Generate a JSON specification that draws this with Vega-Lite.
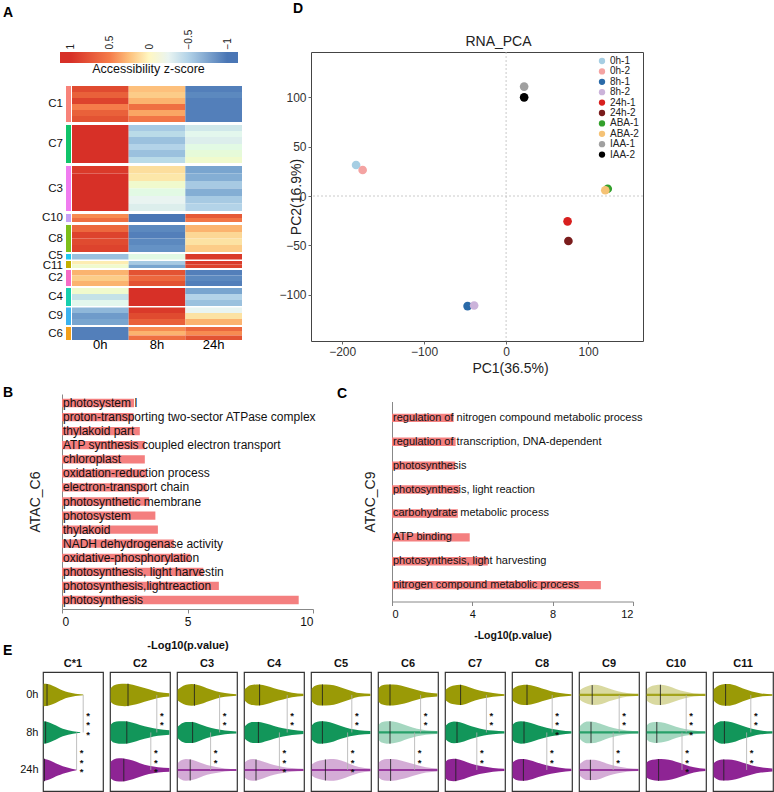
{
  "$schema": "https://vega.github.io/schema/vega-lite/v6.json",
  "background": "white",
  "padding": {"left": 3, "top": 1, "right": 0, "bottom": 0},
  "config": {
    "font": "Liberation Sans",
    "view": {"stroke": null},
    "title": {"fontSize": 14, "fontWeight": "bold", "anchor": "start", "frame": "group", "color": "#000"}
  },
  "datasets": {
    "heat": [
      {"k":"C1","t":"0h","a":0,"b":6,"z":0.85},{"k":"C1","t":"0h","a":6,"b":12,"z":0.7},{"k":"C1","t":"0h","a":12,"b":18,"z":0.9},{"k":"C1","t":"0h","a":18,"b":24,"z":0.5},{"k":"C1","t":"0h","a":24,"b":30,"z":0.7},{"k":"C1","t":"0h","a":30,"b":36,"z":0.8},
      {"k":"C1","t":"8h","a":0,"b":6,"z":0.25},{"k":"C1","t":"8h","a":6,"b":12,"z":0.2},{"k":"C1","t":"8h","a":12,"b":18,"z":0.3},{"k":"C1","t":"8h","a":18,"b":24,"z":0.6},{"k":"C1","t":"8h","a":24,"b":30,"z":0.35},{"k":"C1","t":"8h","a":30,"b":36,"z":0.55},
      {"k":"C1","t":"24h","a":0,"b":6,"z":-0.95},{"k":"C1","t":"24h","a":6,"b":12,"z":-0.9},{"k":"C1","t":"24h","a":12,"b":18,"z":-0.95},{"k":"C1","t":"24h","a":18,"b":36,"z":-0.95},
      {"k":"C7","t":"0h","a":39,"b":77,"z":1},
      {"k":"C7","t":"8h","a":39,"b":45,"z":-0.55},{"k":"C7","t":"8h","a":45,"b":51,"z":-0.45},{"k":"C7","t":"8h","a":51,"b":58,"z":-0.6},{"k":"C7","t":"8h","a":58,"b":64,"z":-0.5},{"k":"C7","t":"8h","a":64,"b":71,"z":-0.6},{"k":"C7","t":"8h","a":71,"b":77,"z":-0.45},
      {"k":"C7","t":"24h","a":39,"b":45,"z":-0.35},{"k":"C7","t":"24h","a":45,"b":51,"z":-0.2},{"k":"C7","t":"24h","a":51,"b":58,"z":-0.3},{"k":"C7","t":"24h","a":58,"b":64,"z":-0.15},{"k":"C7","t":"24h","a":64,"b":71,"z":-0.1},{"k":"C7","t":"24h","a":71,"b":77,"z":-0.05},
      {"k":"C3","t":"0h","a":80,"b":87.5,"z":0.95},{"k":"C3","t":"0h","a":87.5,"b":125,"z":1},
      {"k":"C3","t":"8h","a":80,"b":87.5,"z":0.12},{"k":"C3","t":"8h","a":87.5,"b":95,"z":0.08},{"k":"C3","t":"8h","a":95,"b":102.5,"z":-0.05},{"k":"C3","t":"8h","a":102.5,"b":110,"z":-0.15},{"k":"C3","t":"8h","a":110,"b":117.5,"z":-0.25},{"k":"C3","t":"8h","a":117.5,"b":125,"z":-0.3},
      {"k":"C3","t":"24h","a":80,"b":87.5,"z":-0.75},{"k":"C3","t":"24h","a":87.5,"b":95,"z":-0.7},{"k":"C3","t":"24h","a":95,"b":102.5,"z":-0.55},{"k":"C3","t":"24h","a":102.5,"b":110,"z":-0.7},{"k":"C3","t":"24h","a":110,"b":117.5,"z":-0.55},{"k":"C3","t":"24h","a":117.5,"b":125,"z":-0.5},
      {"k":"C10","t":"0h","a":128,"b":132,"z":0.45},{"k":"C10","t":"0h","a":132,"b":136,"z":0.6},
      {"k":"C10","t":"8h","a":128,"b":136,"z":-1},
      {"k":"C10","t":"24h","a":128,"b":132,"z":0.75},{"k":"C10","t":"24h","a":132,"b":136,"z":0.55},
      {"k":"C8","t":"0h","a":139,"b":146,"z":0.65},{"k":"C8","t":"0h","a":146,"b":152.5,"z":0.9},{"k":"C8","t":"0h","a":152.5,"b":159,"z":0.85},{"k":"C8","t":"0h","a":159,"b":166,"z":0.9},
      {"k":"C8","t":"8h","a":139,"b":146,"z":-0.9},{"k":"C8","t":"8h","a":146,"b":152.5,"z":-0.95},{"k":"C8","t":"8h","a":152.5,"b":159,"z":-0.9},{"k":"C8","t":"8h","a":159,"b":166,"z":-0.85},
      {"k":"C8","t":"24h","a":139,"b":146,"z":0.3},{"k":"C8","t":"24h","a":146,"b":152.5,"z":0.15},{"k":"C8","t":"24h","a":152.5,"b":159,"z":0.1},{"k":"C8","t":"24h","a":159,"b":166,"z":0.2},
      {"k":"C5","t":"0h","a":168,"b":173.5,"z":-0.6},{"k":"C5","t":"8h","a":168,"b":173.5,"z":-0.15},{"k":"C5","t":"24h","a":168,"b":173.5,"z":0.95},
      {"k":"C11","t":"0h","a":175,"b":178.5,"z":0.05},{"k":"C11","t":"0h","a":178.5,"b":182,"z":-0.05},
      {"k":"C11","t":"8h","a":175,"b":178.5,"z":-0.55},{"k":"C11","t":"8h","a":178.5,"b":182,"z":-0.75},
      {"k":"C11","t":"24h","a":175,"b":178.5,"z":0.95},{"k":"C11","t":"24h","a":178.5,"b":182,"z":0.9},
      {"k":"C2","t":"0h","a":184,"b":189.5,"z":0.3},{"k":"C2","t":"0h","a":189.5,"b":195,"z":0.2},{"k":"C2","t":"0h","a":195,"b":200,"z":0.3},
      {"k":"C2","t":"8h","a":184,"b":189.5,"z":0.8},{"k":"C2","t":"8h","a":189.5,"b":195,"z":0.65},{"k":"C2","t":"8h","a":195,"b":200,"z":0.8},
      {"k":"C2","t":"24h","a":184,"b":189.5,"z":-0.95},{"k":"C2","t":"24h","a":189.5,"b":195,"z":-0.9},{"k":"C2","t":"24h","a":195,"b":200,"z":-0.95},
      {"k":"C4","t":"0h","a":202,"b":208,"z":-0.05},{"k":"C4","t":"0h","a":208,"b":214,"z":-0.4},{"k":"C4","t":"0h","a":214,"b":220,"z":-0.2},
      {"k":"C4","t":"8h","a":202,"b":220,"z":1},
      {"k":"C4","t":"24h","a":202,"b":208,"z":-0.75},{"k":"C4","t":"24h","a":208,"b":214,"z":-0.5},{"k":"C4","t":"24h","a":214,"b":220,"z":-0.6},
      {"k":"C9","t":"0h","a":221.5,"b":227,"z":-0.65},{"k":"C9","t":"0h","a":227,"b":233,"z":-0.8},{"k":"C9","t":"0h","a":233,"b":239,"z":-0.75},
      {"k":"C9","t":"8h","a":221.5,"b":227,"z":0.95},{"k":"C9","t":"8h","a":227,"b":233,"z":0.85},{"k":"C9","t":"8h","a":233,"b":239,"z":0.7},
      {"k":"C9","t":"24h","a":221.5,"b":227,"z":-0.25},{"k":"C9","t":"24h","a":227,"b":233,"z":0.1},{"k":"C9","t":"24h","a":233,"b":239,"z":0.3},
      {"k":"C6","t":"0h","a":241,"b":254,"z":-0.95},
      {"k":"C6","t":"8h","a":241,"b":245,"z":0.45},{"k":"C6","t":"8h","a":245,"b":249.5,"z":0.3},{"k":"C6","t":"8h","a":249.5,"b":254,"z":0.6},
      {"k":"C6","t":"24h","a":241,"b":245,"z":0.65},{"k":"C6","t":"24h","a":245,"b":249.5,"z":0.45},{"k":"C6","t":"24h","a":249.5,"b":254,"z":0.8}
    ],
    "clusters": [
      {"k":"C1","a":0,"b":36,"mid":18},{"k":"C7","a":39,"b":77,"mid":58},{"k":"C3","a":80,"b":125,"mid":102.5},
      {"k":"C10","a":128,"b":136,"mid":132},{"k":"C8","a":139,"b":166,"mid":152.5},{"k":"C5","a":168,"b":173.5,"mid":169.5},
      {"k":"C11","a":175,"b":182,"mid":180},{"k":"C2","a":184,"b":200,"mid":192},{"k":"C4","a":202,"b":220,"mid":211},
      {"k":"C9","a":221.5,"b":239,"mid":230.25},{"k":"C6","a":241,"b":254,"mid":247.5}
    ],
    "pca": [
      {"s":"0h-1","pc1":-183,"pc2":31.4},{"s":"0h-2","pc1":-175,"pc2":26.4},
      {"s":"8h-1","pc1":-47,"pc2":-111.6},{"s":"8h-2","pc1":-39,"pc2":-111},
      {"s":"24h-1","pc1":75,"pc2":-25.7},{"s":"24h-2","pc1":76,"pc2":-45.6},
      {"s":"ABA-1","pc1":124,"pc2":7.4},{"s":"ABA-2","pc1":121,"pc2":5.8},
      {"s":"IAA-1","pc1":22,"pc2":110.9},{"s":"IAA-2","pc1":22,"pc2":100}
    ],
    "goB": [
      {"term":"photosystem I","p":2.87},
      {"term":"proton-transporting two-sector ATPase complex","p":2.85},
      {"term":"thylakoid part","p":3.1},
      {"term":"ATP synthesis coupled electron transport","p":3.3},
      {"term":"chloroplast","p":3.3},
      {"term":"oxidation-reduction process","p":3.35},
      {"term":"electron-transport chain","p":3.38},
      {"term":"photosynthetic membrane","p":3.47},
      {"term":"photosystem","p":3.72},
      {"term":"thylakoid","p":3.82},
      {"term":"NADH  dehydrogenase  activity","p":4.46},
      {"term":"oxidative-phosphorylation","p":5.12},
      {"term":" photosynthesis, light harvestin","p":5.63},
      {"term":"photosynthesis,lightreaction","p":6.25},
      {"term":"photosynthesis","p":9.43}
    ],
    "goC": [
      {"term":"regulation of nitrogen compound metabolic process","p":3.07},
      {"term":"regulation of transcription, DNA-dependent","p":3.17},
      {"term":"photosynthesis","p":3.15},
      {"term":"photosynthesis, light reaction","p":3.35},
      {"term":"carbohydrate metabolic process","p":3.28},
      {"term":"ATP    binding","p":3.87},
      {"term":"photosynthesis, light harvesting","p":4.77},
      {"term":"nitrogen compound metabolic process","p":10.4}
    ],
    "vio": [
      {"kind":"v","c":"C*1","t":"0h","sig":"y","v":0.01,"hi":3.3,"lo":2.7},{"kind":"v","c":"C*1","t":"0h","sig":"y","v":0.08,"hi":3.29,"lo":2.71},{"kind":"v","c":"C*1","t":"0h","sig":"y","v":0.17,"hi":3.24,"lo":2.76},{"kind":"v","c":"C*1","t":"0h","sig":"y","v":0.25,"hi":3.18,"lo":2.82},{"kind":"v","c":"C*1","t":"0h","sig":"y","v":0.33,"hi":3.12,"lo":2.88},{"kind":"v","c":"C*1","t":"0h","sig":"y","v":0.42,"hi":3.07,"lo":2.93},{"kind":"v","c":"C*1","t":"0h","sig":"y","v":0.5,"hi":3.045,"lo":2.955},{"kind":"v","c":"C*1","t":"0h","sig":"y","v":0.58,"hi":3.025,"lo":2.975},{"kind":"v","c":"C*1","t":"0h","sig":"y","v":0.67,"hi":3.01,"lo":2.99},
      {"kind":"v","c":"C*1","t":"8h","sig":"y","v":0.01,"hi":2.3,"lo":1.7},{"kind":"v","c":"C*1","t":"8h","sig":"y","v":0.08,"hi":2.28,"lo":1.72},{"kind":"v","c":"C*1","t":"8h","sig":"y","v":0.17,"hi":2.22,"lo":1.78},{"kind":"v","c":"C*1","t":"8h","sig":"y","v":0.25,"hi":2.16,"lo":1.84},{"kind":"v","c":"C*1","t":"8h","sig":"y","v":0.33,"hi":2.1,"lo":1.9},{"kind":"v","c":"C*1","t":"8h","sig":"y","v":0.42,"hi":2.06,"lo":1.94},{"kind":"v","c":"C*1","t":"8h","sig":"y","v":0.5,"hi":2.035,"lo":1.965},{"kind":"v","c":"C*1","t":"8h","sig":"y","v":0.56,"hi":2.02,"lo":1.98},{"kind":"v","c":"C*1","t":"8h","sig":"y","v":0.62,"hi":2.01,"lo":1.99},
      {"kind":"v","c":"C*1","t":"24h","sig":"y","v":0.01,"hi":1.3,"lo":0.7},{"kind":"v","c":"C*1","t":"24h","sig":"y","v":0.08,"hi":1.27,"lo":0.73},{"kind":"v","c":"C*1","t":"24h","sig":"y","v":0.17,"hi":1.21,"lo":0.79},{"kind":"v","c":"C*1","t":"24h","sig":"y","v":0.25,"hi":1.15,"lo":0.85},{"kind":"v","c":"C*1","t":"24h","sig":"y","v":0.33,"hi":1.1,"lo":0.9},{"kind":"v","c":"C*1","t":"24h","sig":"y","v":0.42,"hi":1.06,"lo":0.94},{"kind":"v","c":"C*1","t":"24h","sig":"y","v":0.48,"hi":1.035,"lo":0.965},{"kind":"v","c":"C*1","t":"24h","sig":"y","v":0.52,"hi":1.02,"lo":0.98},{"kind":"v","c":"C*1","t":"24h","sig":"y","v":0.56,"hi":1.01,"lo":0.99},

      {"kind":"v","c":"C2","t":"0h","sig":"y","v":0.01,"hi":3.18,"lo":2.82},{"kind":"v","c":"C2","t":"0h","sig":"y","v":0.06,"hi":3.25,"lo":2.75},{"kind":"v","c":"C2","t":"0h","sig":"y","v":0.15,"hi":3.29,"lo":2.71},{"kind":"v","c":"C2","t":"0h","sig":"y","v":0.25,"hi":3.3,"lo":2.7},{"kind":"v","c":"C2","t":"0h","sig":"y","v":0.38,"hi":3.27,"lo":2.73},{"kind":"v","c":"C2","t":"0h","sig":"y","v":0.5,"hi":3.22,"lo":2.78},{"kind":"v","c":"C2","t":"0h","sig":"y","v":0.65,"hi":3.15,"lo":2.85},{"kind":"v","c":"C2","t":"0h","sig":"y","v":0.8,"hi":3.08,"lo":2.92},{"kind":"v","c":"C2","t":"0h","sig":"y","v":0.99,"hi":3.045,"lo":2.955},
      {"kind":"v","c":"C2","t":"8h","sig":"y","v":0.01,"hi":2.2,"lo":1.8},{"kind":"v","c":"C2","t":"8h","sig":"y","v":0.06,"hi":2.27,"lo":1.73},{"kind":"v","c":"C2","t":"8h","sig":"y","v":0.15,"hi":2.3,"lo":1.7},{"kind":"v","c":"C2","t":"8h","sig":"y","v":0.25,"hi":2.3,"lo":1.7},{"kind":"v","c":"C2","t":"8h","sig":"y","v":0.38,"hi":2.26,"lo":1.74},{"kind":"v","c":"C2","t":"8h","sig":"y","v":0.5,"hi":2.2,"lo":1.8},{"kind":"v","c":"C2","t":"8h","sig":"y","v":0.65,"hi":2.14,"lo":1.86},{"kind":"v","c":"C2","t":"8h","sig":"y","v":0.8,"hi":2.09,"lo":1.91},{"kind":"v","c":"C2","t":"8h","sig":"y","v":0.99,"hi":2.06,"lo":1.94},
      {"kind":"v","c":"C2","t":"24h","sig":"y","v":0.01,"hi":1.22,"lo":0.78},{"kind":"v","c":"C2","t":"24h","sig":"y","v":0.06,"hi":1.28,"lo":0.72},{"kind":"v","c":"C2","t":"24h","sig":"y","v":0.15,"hi":1.31,"lo":0.69},{"kind":"v","c":"C2","t":"24h","sig":"y","v":0.25,"hi":1.3,"lo":0.7},{"kind":"v","c":"C2","t":"24h","sig":"y","v":0.38,"hi":1.25,"lo":0.75},{"kind":"v","c":"C2","t":"24h","sig":"y","v":0.5,"hi":1.18,"lo":0.82},{"kind":"v","c":"C2","t":"24h","sig":"y","v":0.65,"hi":1.11,"lo":0.89},{"kind":"v","c":"C2","t":"24h","sig":"y","v":0.8,"hi":1.07,"lo":0.93},{"kind":"v","c":"C2","t":"24h","sig":"y","v":0.99,"hi":1.05,"lo":0.95},

      {"kind":"v","c":"C3","t":"0h","sig":"y","v":0.01,"hi":3.14,"lo":2.86},{"kind":"v","c":"C3","t":"0h","sig":"y","v":0.06,"hi":3.2,"lo":2.8},{"kind":"v","c":"C3","t":"0h","sig":"y","v":0.15,"hi":3.27,"lo":2.73},{"kind":"v","c":"C3","t":"0h","sig":"y","v":0.25,"hi":3.29,"lo":2.71},{"kind":"v","c":"C3","t":"0h","sig":"y","v":0.38,"hi":3.25,"lo":2.75},{"kind":"v","c":"C3","t":"0h","sig":"y","v":0.5,"hi":3.18,"lo":2.82},{"kind":"v","c":"C3","t":"0h","sig":"y","v":0.65,"hi":3.1,"lo":2.9},{"kind":"v","c":"C3","t":"0h","sig":"y","v":0.8,"hi":3.05,"lo":2.95},{"kind":"v","c":"C3","t":"0h","sig":"y","v":0.99,"hi":3.02,"lo":2.98},
      {"kind":"v","c":"C3","t":"8h","sig":"y","v":0.01,"hi":2.15,"lo":1.85},{"kind":"v","c":"C3","t":"8h","sig":"y","v":0.06,"hi":2.22,"lo":1.78},{"kind":"v","c":"C3","t":"8h","sig":"y","v":0.15,"hi":2.28,"lo":1.72},{"kind":"v","c":"C3","t":"8h","sig":"y","v":0.25,"hi":2.28,"lo":1.72},{"kind":"v","c":"C3","t":"8h","sig":"y","v":0.38,"hi":2.22,"lo":1.78},{"kind":"v","c":"C3","t":"8h","sig":"y","v":0.5,"hi":2.15,"lo":1.85},{"kind":"v","c":"C3","t":"8h","sig":"y","v":0.65,"hi":2.09,"lo":1.91},{"kind":"v","c":"C3","t":"8h","sig":"y","v":0.8,"hi":2.05,"lo":1.95},{"kind":"v","c":"C3","t":"8h","sig":"y","v":0.99,"hi":2.025,"lo":1.975},
      {"kind":"v","c":"C3","t":"24h","sig":"n","v":0.01,"hi":1.18,"lo":0.82},{"kind":"v","c":"C3","t":"24h","sig":"n","v":0.06,"hi":1.25,"lo":0.75},{"kind":"v","c":"C3","t":"24h","sig":"n","v":0.15,"hi":1.29,"lo":0.71},{"kind":"v","c":"C3","t":"24h","sig":"n","v":0.25,"hi":1.27,"lo":0.73},{"kind":"v","c":"C3","t":"24h","sig":"n","v":0.38,"hi":1.2,"lo":0.8},{"kind":"v","c":"C3","t":"24h","sig":"n","v":0.5,"hi":1.13,"lo":0.87},{"kind":"v","c":"C3","t":"24h","sig":"n","v":0.65,"hi":1.08,"lo":0.92},{"kind":"v","c":"C3","t":"24h","sig":"n","v":0.8,"hi":1.04,"lo":0.96},{"kind":"v","c":"C3","t":"24h","sig":"n","v":0.99,"hi":1.02,"lo":0.98},

      {"kind":"v","c":"C4","t":"0h","sig":"y","v":0.01,"hi":3.15,"lo":2.85},{"kind":"v","c":"C4","t":"0h","sig":"y","v":0.06,"hi":3.22,"lo":2.78},{"kind":"v","c":"C4","t":"0h","sig":"y","v":0.15,"hi":3.27,"lo":2.73},{"kind":"v","c":"C4","t":"0h","sig":"y","v":0.25,"hi":3.28,"lo":2.72},{"kind":"v","c":"C4","t":"0h","sig":"y","v":0.38,"hi":3.24,"lo":2.76},{"kind":"v","c":"C4","t":"0h","sig":"y","v":0.5,"hi":3.18,"lo":2.82},{"kind":"v","c":"C4","t":"0h","sig":"y","v":0.65,"hi":3.12,"lo":2.88},{"kind":"v","c":"C4","t":"0h","sig":"y","v":0.8,"hi":3.06,"lo":2.94},{"kind":"v","c":"C4","t":"0h","sig":"y","v":0.99,"hi":3.03,"lo":2.97},
      {"kind":"v","c":"C4","t":"8h","sig":"y","v":0.01,"hi":2.16,"lo":1.84},{"kind":"v","c":"C4","t":"8h","sig":"y","v":0.06,"hi":2.23,"lo":1.77},{"kind":"v","c":"C4","t":"8h","sig":"y","v":0.15,"hi":2.28,"lo":1.72},{"kind":"v","c":"C4","t":"8h","sig":"y","v":0.25,"hi":2.28,"lo":1.72},{"kind":"v","c":"C4","t":"8h","sig":"y","v":0.38,"hi":2.23,"lo":1.77},{"kind":"v","c":"C4","t":"8h","sig":"y","v":0.5,"hi":2.17,"lo":1.83},{"kind":"v","c":"C4","t":"8h","sig":"y","v":0.65,"hi":2.11,"lo":1.89},{"kind":"v","c":"C4","t":"8h","sig":"y","v":0.8,"hi":2.07,"lo":1.93},{"kind":"v","c":"C4","t":"8h","sig":"y","v":0.99,"hi":2.04,"lo":1.96},
      {"kind":"v","c":"C4","t":"24h","sig":"n","v":0.01,"hi":1.2,"lo":0.8},{"kind":"v","c":"C4","t":"24h","sig":"n","v":0.06,"hi":1.26,"lo":0.74},{"kind":"v","c":"C4","t":"24h","sig":"n","v":0.15,"hi":1.29,"lo":0.71},{"kind":"v","c":"C4","t":"24h","sig":"n","v":0.25,"hi":1.26,"lo":0.74},{"kind":"v","c":"C4","t":"24h","sig":"n","v":0.38,"hi":1.19,"lo":0.81},{"kind":"v","c":"C4","t":"24h","sig":"n","v":0.5,"hi":1.13,"lo":0.87},{"kind":"v","c":"C4","t":"24h","sig":"n","v":0.65,"hi":1.08,"lo":0.92},{"kind":"v","c":"C4","t":"24h","sig":"n","v":0.8,"hi":1.05,"lo":0.95},{"kind":"v","c":"C4","t":"24h","sig":"n","v":0.99,"hi":1.03,"lo":0.97},

      {"kind":"v","c":"C5","t":"0h","sig":"y","v":0.01,"hi":3.16,"lo":2.84},{"kind":"v","c":"C5","t":"0h","sig":"y","v":0.06,"hi":3.24,"lo":2.76},{"kind":"v","c":"C5","t":"0h","sig":"y","v":0.15,"hi":3.28,"lo":2.72},{"kind":"v","c":"C5","t":"0h","sig":"y","v":0.25,"hi":3.28,"lo":2.72},{"kind":"v","c":"C5","t":"0h","sig":"y","v":0.38,"hi":3.26,"lo":2.74},{"kind":"v","c":"C5","t":"0h","sig":"y","v":0.5,"hi":3.2,"lo":2.8},{"kind":"v","c":"C5","t":"0h","sig":"y","v":0.65,"hi":3.12,"lo":2.88},{"kind":"v","c":"C5","t":"0h","sig":"y","v":0.8,"hi":3.05,"lo":2.95},{"kind":"v","c":"C5","t":"0h","sig":"y","v":0.99,"hi":3.03,"lo":2.97},
      {"kind":"v","c":"C5","t":"8h","sig":"y","v":0.01,"hi":2.18,"lo":1.82},{"kind":"v","c":"C5","t":"8h","sig":"y","v":0.06,"hi":2.26,"lo":1.74},{"kind":"v","c":"C5","t":"8h","sig":"y","v":0.15,"hi":2.3,"lo":1.7},{"kind":"v","c":"C5","t":"8h","sig":"y","v":0.25,"hi":2.29,"lo":1.71},{"kind":"v","c":"C5","t":"8h","sig":"y","v":0.38,"hi":2.24,"lo":1.76},{"kind":"v","c":"C5","t":"8h","sig":"y","v":0.5,"hi":2.17,"lo":1.83},{"kind":"v","c":"C5","t":"8h","sig":"y","v":0.65,"hi":2.1,"lo":1.9},{"kind":"v","c":"C5","t":"8h","sig":"y","v":0.8,"hi":2.06,"lo":1.94},{"kind":"v","c":"C5","t":"8h","sig":"y","v":0.99,"hi":2.04,"lo":1.96},
      {"kind":"v","c":"C5","t":"24h","sig":"n","v":0.01,"hi":1.15,"lo":0.85},{"kind":"v","c":"C5","t":"24h","sig":"n","v":0.06,"hi":1.2,"lo":0.8},{"kind":"v","c":"C5","t":"24h","sig":"n","v":0.15,"hi":1.25,"lo":0.75},{"kind":"v","c":"C5","t":"24h","sig":"n","v":0.25,"hi":1.28,"lo":0.72},{"kind":"v","c":"C5","t":"24h","sig":"n","v":0.38,"hi":1.29,"lo":0.71},{"kind":"v","c":"C5","t":"24h","sig":"n","v":0.5,"hi":1.25,"lo":0.75},{"kind":"v","c":"C5","t":"24h","sig":"n","v":0.65,"hi":1.16,"lo":0.84},{"kind":"v","c":"C5","t":"24h","sig":"n","v":0.8,"hi":1.08,"lo":0.92},{"kind":"v","c":"C5","t":"24h","sig":"n","v":0.99,"hi":1.04,"lo":0.96},

      {"kind":"v","c":"C6","t":"0h","sig":"y","v":0.01,"hi":3.18,"lo":2.82},{"kind":"v","c":"C6","t":"0h","sig":"y","v":0.06,"hi":3.25,"lo":2.75},{"kind":"v","c":"C6","t":"0h","sig":"y","v":0.15,"hi":3.28,"lo":2.72},{"kind":"v","c":"C6","t":"0h","sig":"y","v":0.25,"hi":3.28,"lo":2.72},{"kind":"v","c":"C6","t":"0h","sig":"y","v":0.38,"hi":3.25,"lo":2.75},{"kind":"v","c":"C6","t":"0h","sig":"y","v":0.5,"hi":3.2,"lo":2.8},{"kind":"v","c":"C6","t":"0h","sig":"y","v":0.65,"hi":3.13,"lo":2.87},{"kind":"v","c":"C6","t":"0h","sig":"y","v":0.8,"hi":3.07,"lo":2.93},{"kind":"v","c":"C6","t":"0h","sig":"y","v":0.99,"hi":3.04,"lo":2.96},
      {"kind":"v","c":"C6","t":"8h","sig":"n","v":0.01,"hi":2.2,"lo":1.8},{"kind":"v","c":"C6","t":"8h","sig":"n","v":0.06,"hi":2.27,"lo":1.73},{"kind":"v","c":"C6","t":"8h","sig":"n","v":0.15,"hi":2.3,"lo":1.7},{"kind":"v","c":"C6","t":"8h","sig":"n","v":0.25,"hi":2.29,"lo":1.71},{"kind":"v","c":"C6","t":"8h","sig":"n","v":0.38,"hi":2.24,"lo":1.76},{"kind":"v","c":"C6","t":"8h","sig":"n","v":0.5,"hi":2.17,"lo":1.83},{"kind":"v","c":"C6","t":"8h","sig":"n","v":0.65,"hi":2.1,"lo":1.9},{"kind":"v","c":"C6","t":"8h","sig":"n","v":0.8,"hi":2.06,"lo":1.94},{"kind":"v","c":"C6","t":"8h","sig":"n","v":0.99,"hi":2.04,"lo":1.96},
      {"kind":"v","c":"C6","t":"24h","sig":"n","v":0.01,"hi":1.2,"lo":0.8},{"kind":"v","c":"C6","t":"24h","sig":"n","v":0.06,"hi":1.26,"lo":0.74},{"kind":"v","c":"C6","t":"24h","sig":"n","v":0.15,"hi":1.29,"lo":0.71},{"kind":"v","c":"C6","t":"24h","sig":"n","v":0.25,"hi":1.29,"lo":0.71},{"kind":"v","c":"C6","t":"24h","sig":"n","v":0.38,"hi":1.25,"lo":0.75},{"kind":"v","c":"C6","t":"24h","sig":"n","v":0.5,"hi":1.2,"lo":0.8},{"kind":"v","c":"C6","t":"24h","sig":"n","v":0.65,"hi":1.13,"lo":0.87},{"kind":"v","c":"C6","t":"24h","sig":"n","v":0.8,"hi":1.07,"lo":0.93},{"kind":"v","c":"C6","t":"24h","sig":"n","v":0.99,"hi":1.04,"lo":0.96},

      {"kind":"v","c":"C7","t":"0h","sig":"y","v":0.01,"hi":3.14,"lo":2.86},{"kind":"v","c":"C7","t":"0h","sig":"y","v":0.06,"hi":3.2,"lo":2.8},{"kind":"v","c":"C7","t":"0h","sig":"y","v":0.15,"hi":3.25,"lo":2.75},{"kind":"v","c":"C7","t":"0h","sig":"y","v":0.25,"hi":3.27,"lo":2.73},{"kind":"v","c":"C7","t":"0h","sig":"y","v":0.38,"hi":3.22,"lo":2.78},{"kind":"v","c":"C7","t":"0h","sig":"y","v":0.5,"hi":3.15,"lo":2.85},{"kind":"v","c":"C7","t":"0h","sig":"y","v":0.65,"hi":3.09,"lo":2.91},{"kind":"v","c":"C7","t":"0h","sig":"y","v":0.8,"hi":3.05,"lo":2.95},{"kind":"v","c":"C7","t":"0h","sig":"y","v":0.99,"hi":3.02,"lo":2.98},
      {"kind":"v","c":"C7","t":"8h","sig":"y","v":0.01,"hi":2.18,"lo":1.82},{"kind":"v","c":"C7","t":"8h","sig":"y","v":0.06,"hi":2.25,"lo":1.75},{"kind":"v","c":"C7","t":"8h","sig":"y","v":0.15,"hi":2.29,"lo":1.71},{"kind":"v","c":"C7","t":"8h","sig":"y","v":0.25,"hi":2.27,"lo":1.73},{"kind":"v","c":"C7","t":"8h","sig":"y","v":0.38,"hi":2.2,"lo":1.8},{"kind":"v","c":"C7","t":"8h","sig":"y","v":0.5,"hi":2.14,"lo":1.86},{"kind":"v","c":"C7","t":"8h","sig":"y","v":0.65,"hi":2.08,"lo":1.92},{"kind":"v","c":"C7","t":"8h","sig":"y","v":0.8,"hi":2.05,"lo":1.95},{"kind":"v","c":"C7","t":"8h","sig":"y","v":0.99,"hi":2.03,"lo":1.97},
      {"kind":"v","c":"C7","t":"24h","sig":"y","v":0.01,"hi":1.22,"lo":0.78},{"kind":"v","c":"C7","t":"24h","sig":"y","v":0.06,"hi":1.28,"lo":0.72},{"kind":"v","c":"C7","t":"24h","sig":"y","v":0.15,"hi":1.3,"lo":0.7},{"kind":"v","c":"C7","t":"24h","sig":"y","v":0.25,"hi":1.27,"lo":0.73},{"kind":"v","c":"C7","t":"24h","sig":"y","v":0.38,"hi":1.2,"lo":0.8},{"kind":"v","c":"C7","t":"24h","sig":"y","v":0.5,"hi":1.14,"lo":0.86},{"kind":"v","c":"C7","t":"24h","sig":"y","v":0.65,"hi":1.09,"lo":0.91},{"kind":"v","c":"C7","t":"24h","sig":"y","v":0.8,"hi":1.05,"lo":0.95},{"kind":"v","c":"C7","t":"24h","sig":"y","v":0.99,"hi":1.03,"lo":0.97},

      {"kind":"v","c":"C8","t":"0h","sig":"y","v":0.01,"hi":3.15,"lo":2.85},{"kind":"v","c":"C8","t":"0h","sig":"y","v":0.06,"hi":3.21,"lo":2.79},{"kind":"v","c":"C8","t":"0h","sig":"y","v":0.15,"hi":3.26,"lo":2.74},{"kind":"v","c":"C8","t":"0h","sig":"y","v":0.25,"hi":3.27,"lo":2.73},{"kind":"v","c":"C8","t":"0h","sig":"y","v":0.38,"hi":3.23,"lo":2.77},{"kind":"v","c":"C8","t":"0h","sig":"y","v":0.5,"hi":3.17,"lo":2.83},{"kind":"v","c":"C8","t":"0h","sig":"y","v":0.65,"hi":3.1,"lo":2.9},{"kind":"v","c":"C8","t":"0h","sig":"y","v":0.8,"hi":3.05,"lo":2.95},{"kind":"v","c":"C8","t":"0h","sig":"y","v":0.99,"hi":3.02,"lo":2.98},
      {"kind":"v","c":"C8","t":"8h","sig":"y","v":0.01,"hi":2.2,"lo":1.8},{"kind":"v","c":"C8","t":"8h","sig":"y","v":0.06,"hi":2.27,"lo":1.73},{"kind":"v","c":"C8","t":"8h","sig":"y","v":0.15,"hi":2.3,"lo":1.7},{"kind":"v","c":"C8","t":"8h","sig":"y","v":0.25,"hi":2.28,"lo":1.72},{"kind":"v","c":"C8","t":"8h","sig":"y","v":0.38,"hi":2.22,"lo":1.78},{"kind":"v","c":"C8","t":"8h","sig":"y","v":0.5,"hi":2.16,"lo":1.84},{"kind":"v","c":"C8","t":"8h","sig":"y","v":0.65,"hi":2.1,"lo":1.9},{"kind":"v","c":"C8","t":"8h","sig":"y","v":0.8,"hi":2.06,"lo":1.94},{"kind":"v","c":"C8","t":"8h","sig":"y","v":0.99,"hi":2.03,"lo":1.97},
      {"kind":"v","c":"C8","t":"24h","sig":"y","v":0.01,"hi":1.2,"lo":0.8},{"kind":"v","c":"C8","t":"24h","sig":"y","v":0.06,"hi":1.26,"lo":0.74},{"kind":"v","c":"C8","t":"24h","sig":"y","v":0.15,"hi":1.29,"lo":0.71},{"kind":"v","c":"C8","t":"24h","sig":"y","v":0.25,"hi":1.28,"lo":0.72},{"kind":"v","c":"C8","t":"24h","sig":"y","v":0.38,"hi":1.22,"lo":0.78},{"kind":"v","c":"C8","t":"24h","sig":"y","v":0.5,"hi":1.16,"lo":0.84},{"kind":"v","c":"C8","t":"24h","sig":"y","v":0.65,"hi":1.1,"lo":0.9},{"kind":"v","c":"C8","t":"24h","sig":"y","v":0.8,"hi":1.06,"lo":0.94},{"kind":"v","c":"C8","t":"24h","sig":"y","v":0.99,"hi":1.03,"lo":0.97},

      {"kind":"v","c":"C9","t":"0h","sig":"n","v":0.01,"hi":3.12,"lo":2.88},{"kind":"v","c":"C9","t":"0h","sig":"n","v":0.06,"hi":3.18,"lo":2.82},{"kind":"v","c":"C9","t":"0h","sig":"n","v":0.15,"hi":3.24,"lo":2.76},{"kind":"v","c":"C9","t":"0h","sig":"n","v":0.25,"hi":3.27,"lo":2.73},{"kind":"v","c":"C9","t":"0h","sig":"n","v":0.38,"hi":3.24,"lo":2.76},{"kind":"v","c":"C9","t":"0h","sig":"n","v":0.5,"hi":3.17,"lo":2.83},{"kind":"v","c":"C9","t":"0h","sig":"n","v":0.65,"hi":3.1,"lo":2.9},{"kind":"v","c":"C9","t":"0h","sig":"n","v":0.8,"hi":3.05,"lo":2.95},{"kind":"v","c":"C9","t":"0h","sig":"n","v":0.99,"hi":3.02,"lo":2.98},
      {"kind":"v","c":"C9","t":"8h","sig":"n","v":0.01,"hi":2.16,"lo":1.84},{"kind":"v","c":"C9","t":"8h","sig":"n","v":0.06,"hi":2.24,"lo":1.76},{"kind":"v","c":"C9","t":"8h","sig":"n","v":0.15,"hi":2.29,"lo":1.71},{"kind":"v","c":"C9","t":"8h","sig":"n","v":0.25,"hi":2.28,"lo":1.72},{"kind":"v","c":"C9","t":"8h","sig":"n","v":0.38,"hi":2.22,"lo":1.78},{"kind":"v","c":"C9","t":"8h","sig":"n","v":0.5,"hi":2.15,"lo":1.85},{"kind":"v","c":"C9","t":"8h","sig":"n","v":0.65,"hi":2.09,"lo":1.91},{"kind":"v","c":"C9","t":"8h","sig":"n","v":0.8,"hi":2.05,"lo":1.95},{"kind":"v","c":"C9","t":"8h","sig":"n","v":0.99,"hi":2.03,"lo":1.97},
      {"kind":"v","c":"C9","t":"24h","sig":"n","v":0.01,"hi":1.15,"lo":0.85},{"kind":"v","c":"C9","t":"24h","sig":"n","v":0.06,"hi":1.22,"lo":0.78},{"kind":"v","c":"C9","t":"24h","sig":"n","v":0.15,"hi":1.27,"lo":0.73},{"kind":"v","c":"C9","t":"24h","sig":"n","v":0.25,"hi":1.27,"lo":0.73},{"kind":"v","c":"C9","t":"24h","sig":"n","v":0.38,"hi":1.22,"lo":0.78},{"kind":"v","c":"C9","t":"24h","sig":"n","v":0.5,"hi":1.15,"lo":0.85},{"kind":"v","c":"C9","t":"24h","sig":"n","v":0.65,"hi":1.09,"lo":0.91},{"kind":"v","c":"C9","t":"24h","sig":"n","v":0.8,"hi":1.05,"lo":0.95},{"kind":"v","c":"C9","t":"24h","sig":"n","v":0.99,"hi":1.03,"lo":0.97},

      {"kind":"v","c":"C10","t":"0h","sig":"n","v":0.01,"hi":3.15,"lo":2.85},{"kind":"v","c":"C10","t":"0h","sig":"n","v":0.06,"hi":3.21,"lo":2.79},{"kind":"v","c":"C10","t":"0h","sig":"n","v":0.15,"hi":3.26,"lo":2.74},{"kind":"v","c":"C10","t":"0h","sig":"n","v":0.25,"hi":3.27,"lo":2.73},{"kind":"v","c":"C10","t":"0h","sig":"n","v":0.38,"hi":3.23,"lo":2.77},{"kind":"v","c":"C10","t":"0h","sig":"n","v":0.5,"hi":3.16,"lo":2.84},{"kind":"v","c":"C10","t":"0h","sig":"n","v":0.65,"hi":3.09,"lo":2.91},{"kind":"v","c":"C10","t":"0h","sig":"n","v":0.8,"hi":3.04,"lo":2.96},{"kind":"v","c":"C10","t":"0h","sig":"n","v":0.99,"hi":3.02,"lo":2.98},
      {"kind":"v","c":"C10","t":"8h","sig":"n","v":0.01,"hi":2.18,"lo":1.82},{"kind":"v","c":"C10","t":"8h","sig":"n","v":0.06,"hi":2.25,"lo":1.75},{"kind":"v","c":"C10","t":"8h","sig":"n","v":0.15,"hi":2.28,"lo":1.72},{"kind":"v","c":"C10","t":"8h","sig":"n","v":0.25,"hi":2.27,"lo":1.73},{"kind":"v","c":"C10","t":"8h","sig":"n","v":0.38,"hi":2.22,"lo":1.78},{"kind":"v","c":"C10","t":"8h","sig":"n","v":0.5,"hi":2.15,"lo":1.85},{"kind":"v","c":"C10","t":"8h","sig":"n","v":0.65,"hi":2.09,"lo":1.91},{"kind":"v","c":"C10","t":"8h","sig":"n","v":0.8,"hi":2.05,"lo":1.95},{"kind":"v","c":"C10","t":"8h","sig":"n","v":0.99,"hi":2.02,"lo":1.98},
      {"kind":"v","c":"C10","t":"24h","sig":"y","v":0.01,"hi":1.2,"lo":0.8},{"kind":"v","c":"C10","t":"24h","sig":"y","v":0.06,"hi":1.25,"lo":0.75},{"kind":"v","c":"C10","t":"24h","sig":"y","v":0.15,"hi":1.28,"lo":0.72},{"kind":"v","c":"C10","t":"24h","sig":"y","v":0.25,"hi":1.29,"lo":0.71},{"kind":"v","c":"C10","t":"24h","sig":"y","v":0.38,"hi":1.27,"lo":0.73},{"kind":"v","c":"C10","t":"24h","sig":"y","v":0.5,"hi":1.22,"lo":0.78},{"kind":"v","c":"C10","t":"24h","sig":"y","v":0.65,"hi":1.14,"lo":0.86},{"kind":"v","c":"C10","t":"24h","sig":"y","v":0.8,"hi":1.07,"lo":0.93},{"kind":"v","c":"C10","t":"24h","sig":"y","v":0.99,"hi":1.03,"lo":0.97},

      {"kind":"v","c":"C11","t":"0h","sig":"y","v":0.01,"hi":3.15,"lo":2.85},{"kind":"v","c":"C11","t":"0h","sig":"y","v":0.06,"hi":3.22,"lo":2.78},{"kind":"v","c":"C11","t":"0h","sig":"y","v":0.15,"hi":3.28,"lo":2.72},{"kind":"v","c":"C11","t":"0h","sig":"y","v":0.25,"hi":3.29,"lo":2.71},{"kind":"v","c":"C11","t":"0h","sig":"y","v":0.38,"hi":3.25,"lo":2.75},{"kind":"v","c":"C11","t":"0h","sig":"y","v":0.5,"hi":3.17,"lo":2.83},{"kind":"v","c":"C11","t":"0h","sig":"y","v":0.65,"hi":3.09,"lo":2.91},{"kind":"v","c":"C11","t":"0h","sig":"y","v":0.8,"hi":3.04,"lo":2.96},{"kind":"v","c":"C11","t":"0h","sig":"y","v":0.99,"hi":3.02,"lo":2.98},
      {"kind":"v","c":"C11","t":"8h","sig":"y","v":0.01,"hi":2.18,"lo":1.82},{"kind":"v","c":"C11","t":"8h","sig":"y","v":0.06,"hi":2.25,"lo":1.75},{"kind":"v","c":"C11","t":"8h","sig":"y","v":0.15,"hi":2.3,"lo":1.7},{"kind":"v","c":"C11","t":"8h","sig":"y","v":0.25,"hi":2.29,"lo":1.71},{"kind":"v","c":"C11","t":"8h","sig":"y","v":0.38,"hi":2.24,"lo":1.76},{"kind":"v","c":"C11","t":"8h","sig":"y","v":0.5,"hi":2.17,"lo":1.83},{"kind":"v","c":"C11","t":"8h","sig":"y","v":0.65,"hi":2.1,"lo":1.9},{"kind":"v","c":"C11","t":"8h","sig":"y","v":0.8,"hi":2.05,"lo":1.95},{"kind":"v","c":"C11","t":"8h","sig":"y","v":0.99,"hi":2.03,"lo":1.97},
      {"kind":"v","c":"C11","t":"24h","sig":"y","v":0.01,"hi":1.18,"lo":0.82},{"kind":"v","c":"C11","t":"24h","sig":"y","v":0.06,"hi":1.24,"lo":0.76},{"kind":"v","c":"C11","t":"24h","sig":"y","v":0.15,"hi":1.28,"lo":0.72},{"kind":"v","c":"C11","t":"24h","sig":"y","v":0.25,"hi":1.28,"lo":0.72},{"kind":"v","c":"C11","t":"24h","sig":"y","v":0.38,"hi":1.25,"lo":0.75},{"kind":"v","c":"C11","t":"24h","sig":"y","v":0.5,"hi":1.19,"lo":0.81},{"kind":"v","c":"C11","t":"24h","sig":"y","v":0.65,"hi":1.12,"lo":0.88},{"kind":"v","c":"C11","t":"24h","sig":"y","v":0.8,"hi":1.07,"lo":0.93},{"kind":"v","c":"C11","t":"24h","sig":"y","v":0.99,"hi":1.04,"lo":0.96},

      {"kind":"cl","c":"C3","t":"24h","mid":1},{"kind":"cl","c":"C4","t":"24h","mid":1},{"kind":"cl","c":"C5","t":"24h","mid":1},
      {"kind":"cl","c":"C6","t":"8h","mid":2},{"kind":"cl","c":"C6","t":"24h","mid":1},
      {"kind":"cl","c":"C9","t":"0h","mid":3},{"kind":"cl","c":"C9","t":"8h","mid":2},{"kind":"cl","c":"C9","t":"24h","mid":1},
      {"kind":"cl","c":"C10","t":"0h","mid":3},{"kind":"cl","c":"C10","t":"8h","mid":2},

      {"kind":"m","c":"C*1","t":"0h","v":0.067,"hi":3.29,"lo":2.71},{"kind":"m","c":"C*1","t":"8h","v":0.044,"hi":2.29,"lo":1.71},{"kind":"m","c":"C*1","t":"24h","v":0.025,"hi":1.3,"lo":0.7},
      {"kind":"m","c":"C2","t":"0h","v":0.3,"hi":3.3,"lo":2.7},{"kind":"m","c":"C2","t":"8h","v":0.28,"hi":2.3,"lo":1.7},{"kind":"m","c":"C2","t":"24h","v":0.23,"hi":1.3,"lo":0.7},
      {"kind":"m","c":"C3","t":"0h","v":0.29,"hi":3.29,"lo":2.71},{"kind":"m","c":"C3","t":"8h","v":0.26,"hi":2.28,"lo":1.72},{"kind":"m","c":"C3","t":"24h","v":0.22,"hi":1.28,"lo":0.72},
      {"kind":"m","c":"C4","t":"0h","v":0.26,"hi":3.28,"lo":2.72},{"kind":"m","c":"C4","t":"8h","v":0.24,"hi":2.28,"lo":1.72},{"kind":"m","c":"C4","t":"24h","v":0.2,"hi":1.28,"lo":0.72},
      {"kind":"m","c":"C5","t":"0h","v":0.19,"hi":3.28,"lo":2.72},{"kind":"m","c":"C5","t":"8h","v":0.19,"hi":2.3,"lo":1.7},{"kind":"m","c":"C5","t":"24h","v":0.24,"hi":1.28,"lo":0.72},
      {"kind":"m","c":"C6","t":"0h","v":0.2,"hi":3.28,"lo":2.72},{"kind":"m","c":"C6","t":"8h","v":0.2,"hi":2.3,"lo":1.7},{"kind":"m","c":"C6","t":"24h","v":0.21,"hi":1.29,"lo":0.71},
      {"kind":"m","c":"C7","t":"0h","v":0.26,"hi":3.27,"lo":2.73},{"kind":"m","c":"C7","t":"8h","v":0.2,"hi":2.28,"lo":1.72},{"kind":"m","c":"C7","t":"24h","v":0.18,"hi":1.3,"lo":0.7},
      {"kind":"m","c":"C8","t":"0h","v":0.25,"hi":3.27,"lo":2.73},{"kind":"m","c":"C8","t":"8h","v":0.2,"hi":2.29,"lo":1.71},{"kind":"m","c":"C8","t":"24h","v":0.19,"hi":1.29,"lo":0.71},
      {"kind":"m","c":"C9","t":"0h","v":0.22,"hi":3.26,"lo":2.74},{"kind":"m","c":"C9","t":"8h","v":0.2,"hi":2.28,"lo":1.72},{"kind":"m","c":"C9","t":"24h","v":0.19,"hi":1.27,"lo":0.73},
      {"kind":"m","c":"C10","t":"0h","v":0.24,"hi":3.27,"lo":2.73},{"kind":"m","c":"C10","t":"8h","v":0.18,"hi":2.28,"lo":1.72},{"kind":"m","c":"C10","t":"24h","v":0.21,"hi":1.29,"lo":0.71},
      {"kind":"m","c":"C11","t":"0h","v":0.21,"hi":3.29,"lo":2.71},{"kind":"m","c":"C11","t":"8h","v":0.19,"hi":2.3,"lo":1.7},{"kind":"m","c":"C11","t":"24h","v":0.18,"hi":1.28,"lo":0.72},

      {"kind":"b","c":"C*1","v":0.67,"hi":3,"lo":2,"mid":2.5,"lab":"*\n*\n*"},{"kind":"b","c":"C*1","v":0.56,"hi":2,"lo":1,"mid":1.5,"lab":"*\n*\n*"},
      {"kind":"b","c":"C2","v":0.78,"hi":3,"lo":2,"mid":2.5,"lab":"*\n*"},{"kind":"b","c":"C2","v":0.68,"hi":2,"lo":1,"mid":1.5,"lab":"*\n*\n*"},
      {"kind":"b","c":"C3","v":0.71,"hi":3,"lo":2,"mid":2.5,"lab":"*\n*"},{"kind":"b","c":"C3","v":0.56,"hi":2,"lo":1,"mid":1.5,"lab":"*\n*"},
      {"kind":"b","c":"C4","v":0.72,"hi":3,"lo":2,"mid":2.5,"lab":"*\n*"},{"kind":"b","c":"C4","v":0.59,"hi":2,"lo":1,"mid":1.5,"lab":"*\n*\n*"},
      {"kind":"b","c":"C5","v":0.68,"hi":3,"lo":2,"mid":2.5,"lab":"*\n*"},{"kind":"b","c":"C5","v":0.61,"hi":2,"lo":1,"mid":1.5,"lab":"*\n*\n*"},
      {"kind":"b","c":"C6","v":0.71,"hi":3,"lo":2,"mid":2.5,"lab":"*\n*"},{"kind":"b","c":"C6","v":0.61,"hi":2,"lo":1,"mid":1.5,"lab":"*\n*"},
      {"kind":"b","c":"C7","v":0.69,"hi":3,"lo":2,"mid":2.5,"lab":"*\n*"},{"kind":"b","c":"C7","v":0.53,"hi":2,"lo":1,"mid":1.5,"lab":"*\n*"},
      {"kind":"b","c":"C8","v":0.67,"hi":3,"lo":2,"mid":2.5,"lab":"*\n*\n*"},{"kind":"b","c":"C8","v":0.58,"hi":2,"lo":1,"mid":1.5,"lab":"*\n*"},
      {"kind":"b","c":"C9","v":0.67,"hi":3,"lo":2,"mid":2.5,"lab":"*\n*"},{"kind":"b","c":"C9","v":0.57,"hi":2,"lo":1,"mid":1.5,"lab":"*\n*"},
      {"kind":"b","c":"C10","v":0.67,"hi":3,"lo":2,"mid":2.5,"lab":"*\n*\n*"},{"kind":"b","c":"C10","v":0.6,"hi":2,"lo":1,"mid":1.5,"lab":"*\n*\n*"},
      {"kind":"b","c":"C11","v":0.63,"hi":3,"lo":2,"mid":2.5,"lab":"*\n*"},{"kind":"b","c":"C11","v":0.56,"hi":2,"lo":1,"mid":1.5,"lab":"*\n*"}
    ]
  },
  "spacing": -6,
  "vconcat": [
    {
      "spacing": 10,
      "vconcat": [
        {
          "spacing": 36,
          "hconcat": [
            {
              "title": {"text": "A", "dx": -40, "offset": 9},
              "bounds": "flush",
              "spacing": 23,
              "vconcat": [
                {
                  "width": 199,
                  "height": 11,
                  "data": {"values": [{"zhi": 1.14, "zlo": -1.14}]},
                  "title": {"text": "Accessibility z-score", "orient": "bottom", "anchor": "middle", "fontSize": 12.5, "fontWeight": "normal", "offset": 0, "dx": 6, "color": "#111"},
                  "mark": {
                    "type": "rect",
                    "fill": {"gradient": "linear", "x1": 0, "x2": 1, "y1": 0, "y2": 0, "stops": [
                      {"offset": 0, "color": "#d73027"}, {"offset": 0.061, "color": "#d73027"},
                      {"offset": 0.281, "color": "#f57c4a"}, {"offset": 0.39, "color": "#fdc07c"},
                      {"offset": 0.5, "color": "#fff7c2"}, {"offset": 0.61, "color": "#e9f4f1"},
                      {"offset": 0.719, "color": "#b3d3e8"}, {"offset": 0.939, "color": "#4a76b5"},
                      {"offset": 1, "color": "#4a76b5"}
                    ]}
                  },
                  "encoding": {
                    "x": {"field": "zhi", "type": "quantitative",
                      "scale": {"domain": [-1.1912, 1.3578], "reverse": true, "nice": false, "zero": false},
                      "axis": {"orient": "top", "values": [1, 0.5, 0, -0.5, -1], "format": "~g", "labelAngle": -90, "domain": false, "ticks": false, "grid": false, "labelFontSize": 10, "labelPadding": 3, "labelColor": "#222", "title": null}},
                    "x2": {"field": "zlo"}
                  }
                },
                {
                  "width": 199,
                  "height": 254,
                  "layer": [
                    {
                      "data": {"name": "heat"},
                      "mark": {"type": "rect"},
                      "encoding": {
                        "x": {"field": "t", "type": "nominal",
                          "scale": {"domain": ["0h", "8h", "24h"], "paddingInner": 0, "paddingOuter": 0.2559, "align": 1},
                          "axis": {"orient": "bottom", "domain": false, "ticks": false, "labelAngle": 0, "labelFontSize": 13, "labelPadding": -2, "labelColor": "#000", "title": null}},
                        "y": {"field": "a", "type": "quantitative", "scale": {"domain": [0, 254], "reverse": true, "nice": false, "zero": false}, "axis": null},
                        "y2": {"field": "b"},
                        "color": {"field": "z", "type": "quantitative",
                          "scale": {"domain": [-1.14, -1, -0.5, -0.25, 0, 0.25, 0.5, 1, 1.14],
                                    "range": ["#4a76b5", "#4a76b5", "#b3d3e8", "#e9f4f1", "#fff7c2", "#fdc07c", "#f57c4a", "#d73027", "#d73027"]},
                          "legend": null}
                      }
                    },
                    {
                      "data": {"name": "clusters"},
                      "mark": {"type": "rule", "strokeWidth": 5, "xOffset": -3.5},
                      "encoding": {
                        "x": {"datum": "0h", "bandPosition": 0},
                        "y": {"field": "a", "type": "quantitative"},
                        "y2": {"field": "b"},
                        "stroke": {"field": "k", "type": "nominal",
                          "scale": {"domain": ["C1", "C7", "C3", "C10", "C8", "C5", "C11", "C2", "C4", "C9", "C6"],
                                    "range": ["#f8837a", "#10c46a", "#f07cf0", "#c5a0f5", "#7dbf19", "#1ec8ef", "#c2b000", "#f66bc6", "#16cfae", "#3bb3f0", "#f3a01b"]},
                          "legend": null}
                      }
                    },
                    {
                      "data": {"name": "clusters"},
                      "mark": {"type": "text", "align": "right", "baseline": "middle", "dx": -9, "fontSize": 11.5, "color": "#111"},
                      "encoding": {
                        "x": {"datum": "0h", "bandPosition": 0},
                        "y": {"field": "mid", "type": "quantitative"},
                        "text": {"field": "k"}
                      }
                    }
                  ]
                }
              ]
            },
            {
              "title": {"text": "D", "dx": -18, "offset": 18},
              "width": 332,
              "height": 289,
              "view": {"stroke": "#444", "strokeWidth": 1},
              "resolve": {"axis": {"x": "independent"}},
              "layer": [
                {
                  "data": {"values": [{"zero": 0}]},
                  "mark": {"type": "rule", "color": "#bdbdbd", "strokeDash": [2, 2], "strokeWidth": 0.8},
                  "encoding": {
                    "x": {"field": "zero", "type": "quantitative",
                      "axis": {"orient": "top", "labels": false, "ticks": false, "domain": false, "grid": false, "title": "RNA_PCA", "titleFontSize": 14, "titleFontWeight": "normal", "titleColor": "#222", "titlePadding": 4, "titleX": 187}}
                  }
                },
                {
                  "data": {"values": [{"zero": 0}]},
                  "mark": {"type": "rule", "color": "#bdbdbd", "strokeDash": [2, 2], "strokeWidth": 0.8},
                  "encoding": {
                    "y": {"field": "zero", "type": "quantitative", "title": "PC2(16.9%)"}
                  }
                },
                {
                  "data": {"name": "pca"},
                  "mark": {"type": "circle", "size": 75, "opacity": 1},
                  "encoding": {
                    "x": {"field": "pc1", "type": "quantitative",
                      "scale": {"domain": [-238, 167], "nice": false, "zero": false},
                      "axis": {"values": [-200, -100, 0, 100], "grid": false, "domain": false, "tickColor": "#666", "tickSize": 3, "labelFontSize": 12, "labelColor": "#333", "labelPadding": 2,
                               "title": "PC1(36.5%)", "titleFontSize": 14, "titleFontWeight": "normal", "titleColor": "#222", "titlePadding": 4, "titleX": 199}},
                    "y": {"field": "pc2", "type": "quantitative",
                      "scale": {"domain": [-147, 146], "nice": false, "zero": false},
                      "title": "PC2(16.9%)",
                      "axis": {"values": [-100, -50, 0, 50, 100], "grid": false, "domain": false, "tickColor": "#666", "tickSize": 3, "labelFontSize": 12, "labelColor": "#333", "labelPadding": 2,
                               "titleFontSize": 14, "titleFontWeight": "normal", "titleColor": "#222", "titleX": -8}},
                    "color": {"field": "s", "type": "nominal",
                      "scale": {"domain": ["0h-1", "0h-2", "8h-1", "8h-2", "24h-1", "24h-2", "ABA-1", "ABA-2", "IAA-1", "IAA-2"],
                                "range": ["#a6cee3", "#f4a3a2", "#2a6aa8", "#cbb3da", "#d8201f", "#7a1c1c", "#33a02c", "#f5c275", "#a0a0a0", "#000000"]},
                      "legend": {"orient": "top-right", "title": null, "labelFontSize": 10, "labelColor": "#222", "symbolSize": 40, "symbolType": "circle", "rowPadding": 0.4, "padding": 2, "offset": 2, "labelOffset": 3}}
                  }
                }
              ]
            }
          ]
        },
        {
          "bounds": "flush",
          "center": true,
          "spacing": 79,
          "hconcat": [
            {
              "title": {"text": "B", "dx": -40, "offset": -6},
              "width": 270,
              "height": 215,
              "data": {"name": "goB"},
              "encoding": {
                "y": {"field": "term", "type": "nominal", "sort": null,
                  "scale": {"paddingInner": 0.41, "paddingOuter": 0.345},
                  "axis": {"offset": -19, "labels": false, "ticks": false, "domain": true, "domainColor": "#888", "title": "ATAC_C6", "titleFontSize": 14, "titleFontWeight": "normal", "titleColor": "#222", "titlePadding": 20}}
              },
              "layer": [
                {
                  "mark": {"type": "bar", "color": "#f47f7f"},
                  "encoding": {
                    "x": {"field": "p", "type": "quantitative", "scale": {"domain": [0, 10], "range": [19, 270], "nice": false},
                      "axis": {"values": [0, 5, 10], "grid": false, "domainColor": "#888", "tickColor": "#888", "tickSize": 4, "labelFontSize": 12, "labelColor": "#111", "labelPadding": 3,
                               "title": "-Log10(p.value)", "titleFontSize": 11, "titleFontWeight": "bold", "titleColor": "#111", "titlePadding": 12}}
                  }
                },
                {
                  "mark": {"type": "text", "align": "left", "baseline": "middle", "dx": 1, "fontSize": 12, "color": "#111"},
                  "encoding": {
                    "x": {"datum": 0, "type": "quantitative"},
                    "text": {"field": "term"}
                  }
                }
              ]
            },
            {
              "title": {"text": "C", "dx": -55, "offset": 1},
              "width": 241,
              "height": 200,
              "data": {"name": "goC"},
              "encoding": {
                "y": {"field": "term", "type": "nominal", "sort": null,
                  "scale": {"paddingInner": 0.65, "paddingOuter": 0.51},
                  "axis": {"labels": false, "ticks": false, "domain": true, "domainColor": "#888", "title": "ATAC_C9", "titleFontSize": 14, "titleFontWeight": "normal", "titleColor": "#222", "titlePadding": 15}}
              },
              "layer": [
                {
                  "mark": {"type": "bar", "color": "#f47f7f"},
                  "encoding": {
                    "x": {"field": "p", "type": "quantitative", "scale": {"domain": [0, 12], "nice": false},
                      "axis": {"values": [0, 4, 8, 12], "grid": false, "domainColor": "#888", "tickColor": "#888", "tickSize": 4, "labelFontSize": 11, "labelColor": "#111", "labelPadding": 3,
                               "title": "-Log10(p.value)", "titleFontSize": 10.5, "titleFontWeight": "bold", "titleColor": "#111", "titlePadding": 11}}
                  }
                },
                {
                  "mark": {"type": "text", "align": "left", "baseline": "middle", "dx": 1, "fontSize": 11, "color": "#111"},
                  "encoding": {
                    "x": {"datum": 0, "type": "quantitative"},
                    "text": {"field": "term"}
                  }
                }
              ]
            }
          ]
        }
      ]
    },
    {
      "title": {"text": "E", "dx": -40, "offset": 0},
      "data": {"name": "vio"},
      "bounds": "flush",
      "spacing": 7,
      "facet": {
        "column": {"field": "c", "type": "nominal", "title": null,
          "sort": ["C*1", "C2", "C3", "C4", "C5", "C6", "C7", "C8", "C9", "C10", "C11"],
          "header": {"labelFontSize": 11, "labelFontWeight": "bold", "labelPadding": 3, "labelColor": "#111"}}
      },
      "spec": {
        "width": 60,
        "height": 119,
        "view": {"stroke": "#333", "strokeWidth": 1.2},
        "layer": [
          {
            "transform": [{"filter": "datum.kind == 'v'"}],
            "mark": {"type": "area", "orient": "vertical", "interpolate": "monotone"},
            "encoding": {
              "x": {"field": "v", "type": "quantitative", "scale": {"domain": [0, 1], "nice": false, "zero": false}, "axis": null},
              "y": {"field": "hi", "type": "quantitative", "stack": null,
                "scale": {"domain": [0.44, 3.61], "nice": false, "zero": false},
                "axis": {"values": [1, 2, 3], "labelExpr": "datum.value == 3 ? '0h' : datum.value == 2 ? '8h' : '24h'", "domain": false, "ticks": false, "grid": false, "title": null, "labelFontSize": 11, "labelPadding": 5, "labelColor": "#111"}},
              "y2": {"field": "lo"},
              "color": {"field": "t", "type": "nominal", "scale": {"domain": ["0h", "8h", "24h"], "range": ["#9a9a06", "#12965a", "#8e2494"]}, "legend": null},
              "opacity": {"field": "sig", "type": "nominal", "scale": {"domain": ["y", "n"], "range": [1, 0.38]}, "legend": null}
            }
          },
          {
            "transform": [{"filter": "datum.kind == 'cl'"}],
            "mark": {"type": "rule", "strokeWidth": 2.2, "opacity": 0.85},
            "encoding": {
              "x": {"datum": 0.01},
              "x2": {"datum": 0.99},
              "y": {"field": "mid", "type": "quantitative"},
              "color": {"field": "t", "type": "nominal", "legend": null}
            }
          },
          {
            "transform": [{"filter": "datum.kind == 'm'"}],
            "mark": {"type": "rule", "color": "#222", "strokeWidth": 1, "opacity": 0.85},
            "encoding": {
              "x": {"field": "v", "type": "quantitative"},
              "y": {"field": "hi", "type": "quantitative"},
              "y2": {"field": "lo"}
            }
          },
          {
            "transform": [{"filter": "datum.kind == 'b'"}],
            "mark": {"type": "rule", "color": "#b0b0b0", "strokeWidth": 0.8},
            "encoding": {
              "x": {"field": "v", "type": "quantitative"},
              "y": {"field": "hi", "type": "quantitative"},
              "y2": {"field": "lo"}
            }
          },
          {
            "transform": [{"filter": "datum.kind == 'b'"}],
            "mark": {"type": "text", "align": "center", "baseline": "middle", "xOffset": 5, "dy": 2, "fontSize": 9.5, "lineBreak": "\n", "lineHeight": 9.5, "fontWeight": "bold", "color": "#111"},
            "encoding": {
              "x": {"field": "v", "type": "quantitative"},
              "y": {"field": "mid", "type": "quantitative"},
              "text": {"field": "lab"}
            }
          }
        ]
      }
    }
  ]
}
